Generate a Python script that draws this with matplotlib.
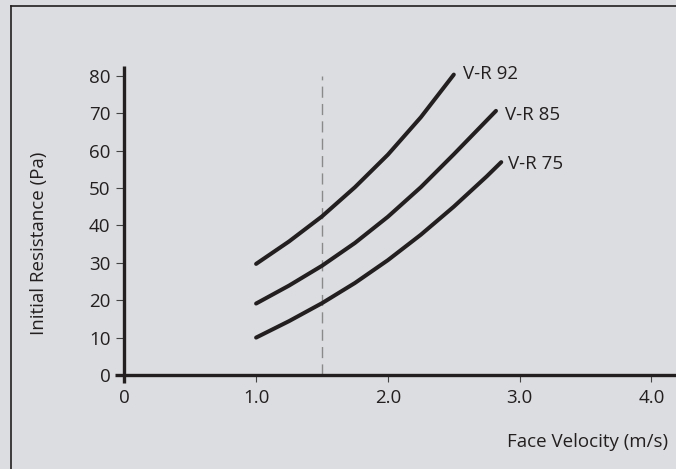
import matplotlib
matplotlib.use("Agg")
import matplotlib.pyplot as plt
from matplotlib.lines import Line2D

plt.rcParams['font.family'] = ['Open Sans', 'DejaVu Sans']

# ---- data ----
series_names = ["V-R 92", "V-R 85", "V-R 75"]
vr92_x = [1.0, 1.25, 1.5, 1.75, 2.0, 2.25, 2.5]
vr92_y = [29.7, 35.7, 42.4, 50.2, 58.9, 68.9, 80.3]
vr85_x = [1.0, 1.25, 1.5, 1.75, 2.0, 2.25, 2.5, 2.82]
vr85_y = [19.1, 23.9, 29.2, 35.3, 42.3, 50.2, 59.0, 70.6]
vr75_x = [1.0, 1.25, 1.5, 1.75, 2.0, 2.25, 2.5, 2.75, 2.86]
vr75_y = [10.0, 14.4, 19.2, 24.6, 30.7, 37.5, 45.0, 53.1, 56.9]
x_ticks = [0, 1, 2, 3, 4]
x_tick_labels = ["0", "1.0", "2.0", "3.0", "4.0"]
y_ticks = [0, 10, 20, 30, 40, 50, 60, 70, 80]
ref_velocity = 1.5
ref_top = 80

W, H = 676, 469
DPI = 100
BG = "#dcdde0"
INK = "#231f20"

fig = plt.figure(figsize=(W / DPI, H / DPI), dpi=DPI, facecolor=BG)

# axes placement in pixels (image coords, top-down)
ax_left, ax_right, ax_top, ax_bottom = 115, 676, 66, 383
ax = fig.add_axes([ax_left / W, 1 - ax_bottom / H,
                   (ax_right - ax_left) / W, (ax_bottom - ax_top) / H])
ax.set_facecolor(BG)
ax.patch.set_alpha(0)

px_x = 131.8
px_y = 3.741
x0 = 124.3
y0 = 375.0
ax.set_xlim((ax_left - x0) / px_x, (ax_right - x0) / px_x)
ax.set_ylim((y0 - ax_bottom) / px_y, (y0 - ax_top) / px_y)

for s in ["top", "right"]:
    ax.spines[s].set_visible(False)
ax.spines["left"].set_position(("data", 0))
ax.spines["bottom"].set_position(("data", 0))
for s in ["left", "bottom"]:
    ax.spines[s].set_linewidth(2.4)
    ax.spines[s].set_color(INK)
    ax.spines[s].set_capstyle("butt")

ax.set_xticks(x_ticks)
ax.set_xticklabels(x_tick_labels)
ax.set_yticks(y_ticks)
ax.tick_params(axis="both", colors="#444444", labelcolor=INK, labelsize=13.5,
               width=0.8, direction="out")
ax.tick_params(axis="y", length=6, pad=4)
ax.tick_params(axis="x", length=5, pad=5)

# reference dashed line
ax.plot([ref_velocity, ref_velocity], [0, ref_top], color="#8a8a8a",
        lw=1.0, dashes=(8, 4.5), zorder=1)

xs = [vr92_x, vr85_x, vr75_x]
ys = [vr92_y, vr85_y, vr75_y]
offsets = [(6.5, 0.5), (6.2, -3.0), (5.0, -1.2)]
for name, x, y, off in zip(series_names, xs, ys, offsets):
    ax.plot(x, y, color=INK, lw=2.9, solid_capstyle="round",
            solid_joinstyle="round", zorder=3)
    ax.annotate(name, xy=(x[-1], y[-1]), xytext=off, textcoords="offset points",
                ha="left", va="center", fontsize=13.5, color=INK)

# axis titles
fig.text(39 / W, 1 - 243 / H, "Initial Resistance (Pa)", rotation=90,
         ha="center", va="center", fontsize=13.5, color=INK)
fig.text(668 / W, 1 - 442 / H, "Face Velocity (m/s)", ha="right", va="center",
         fontsize=13.5, color=INK)

# outer frame (left and top edges)
fx = 10.5
fy = 6.5
fig.add_artist(Line2D([fx / W, fx / W], [0, 1 - fy / H], transform=fig.transFigure,
                      color=INK, lw=1.2))
fig.add_artist(Line2D([fx / W, 1], [1 - fy / H, 1 - fy / H], transform=fig.transFigure,
                      color=INK, lw=1.2))

fig.savefig("out.png", dpi=DPI, facecolor=BG)
